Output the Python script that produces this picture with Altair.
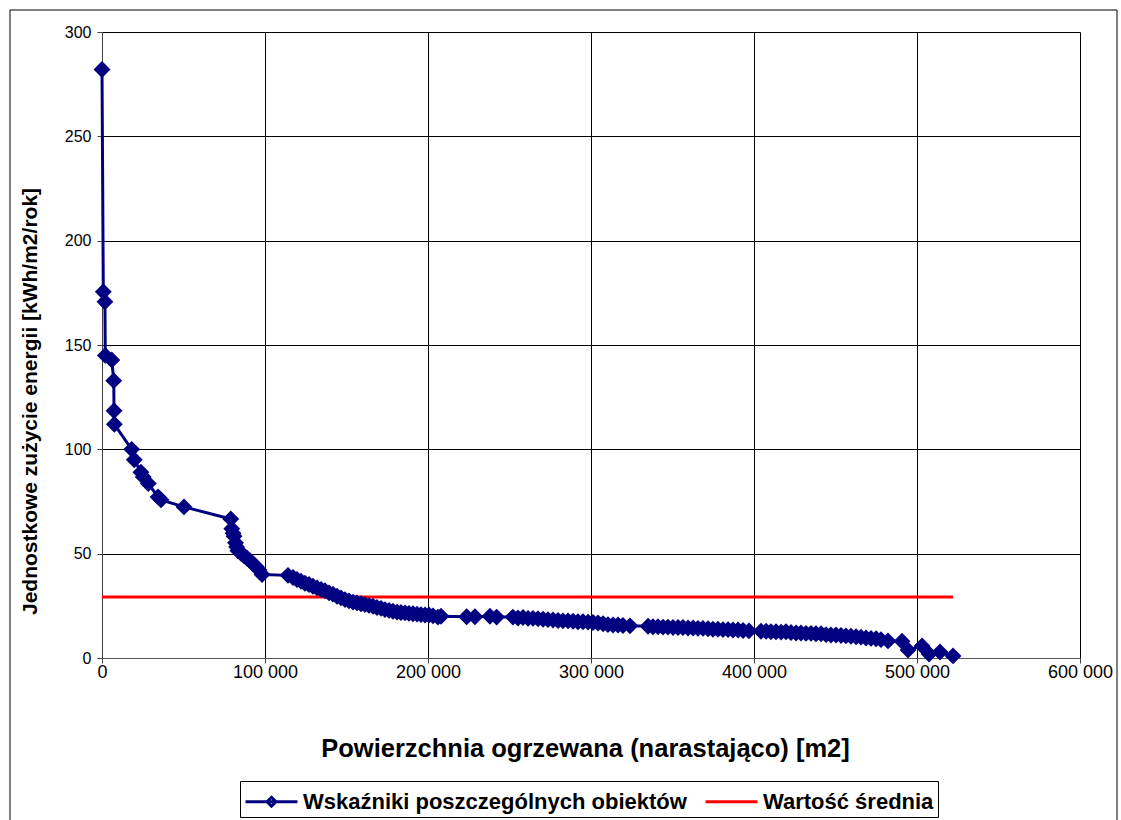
import altair as alt
import pandas as pd

# Cumulative heated floor area [m2] (objects sorted by unit energy use)
area_m2 = [
    0, 800, 1800, 2000, 6000, 7200, 7400, 7600, 18200, 19800,
    23900, 25300, 28400, 34400, 36200, 50300, 79000, 79600, 80400, 81000,
    81900, 82600, 83400, 85300, 87100, 89000, 90800, 92600, 94500, 96300,
    98200, 114100, 117200, 119600, 122100, 124500, 127000, 129400, 131900, 134400,
    136800, 139300, 141700, 144200, 146600, 149100, 151500, 154000, 156400, 158900,
    161300, 163800, 166300, 168700, 171200, 173600, 176100, 178500, 181000, 183400,
    185900, 188300, 190800, 193300, 195700, 198200, 200600, 203100, 206100, 208000,
    223700, 228800, 238000, 242100, 252100, 255200, 258300, 261400, 264400, 267500,
    270600, 273600, 276700, 279800, 282800, 285900, 289000, 292000, 295100, 298200,
    301200, 304300, 307400, 310400, 313500, 316600, 319600, 323900, 335000, 338000,
    341100, 344200, 347200, 350300, 353400, 356400, 359500, 362600, 365600, 368700,
    371800, 374800, 377900, 381000, 384100, 387100, 390200, 393300, 396900, 404300,
    407400, 410400, 413500, 416600, 419600, 422700, 425800, 428800, 431900, 435000,
    438000, 441100, 444200, 447200, 450300, 453400, 456400, 459500, 462600, 465600,
    468700, 471800, 474900, 477900, 482200, 490800, 494500, 503100, 507400, 514100,
    522100,
]

# Unit energy consumption of each object [kWh/m2/rok]
unit_energy = [
    282.0, 175.5, 170.7, 145.0, 142.8, 132.9, 118.5, 112.0, 100.0, 95.0,
    89.0, 86.8, 83.6, 77.2, 75.8, 72.4, 66.6, 62.0, 59.8, 58.4,
    55.2, 53.2, 51.4, 50.2, 49.0, 47.8, 46.6, 45.2, 43.8, 42.2,
    40.0, 39.6, 38.6, 37.6, 36.8, 35.8, 35.2, 34.4, 33.6, 32.8,
    32.2, 31.2, 30.6, 29.6, 28.8, 28.0, 27.4, 26.8, 26.4, 26.0,
    25.6, 25.2, 24.8, 24.2, 23.8, 23.2, 22.8, 22.4, 22.0, 21.8,
    21.6, 21.4, 21.2, 21.0, 20.8, 20.6, 20.6, 20.2, 19.6, 20.0,
    19.8, 19.8, 20.0, 19.6, 19.6, 19.2, 19.4, 19.0, 19.0, 18.8,
    18.6, 18.4, 18.2, 18.0, 17.8, 17.8, 17.6, 17.4, 17.4, 17.2,
    17.0, 16.8, 16.4, 16.0, 15.8, 15.8, 15.6, 15.4, 15.2, 15.0,
    15.0, 14.8, 14.8, 14.6, 14.6, 14.6, 14.4, 14.4, 14.2, 14.2,
    14.0, 13.8, 13.8, 13.6, 13.6, 13.4, 13.4, 13.2, 13.0, 12.8,
    12.8, 12.6, 12.6, 12.4, 12.6, 12.2, 12.0, 12.0, 11.8, 11.8,
    11.6, 11.6, 11.2, 11.0, 11.0, 10.8, 10.6, 10.4, 10.2, 10.0,
    9.6, 9.4, 9.2, 8.8, 8.2, 8.0, 3.8, 5.8, 1.9, 2.9,
    1.0,
]

# Mean value line
mean_area = [0, 522100]
mean_value = [29.2, 29.2]

series_names = ["Wskaźniki poszczególnych obiektów", "Wartość średnia"]
series_colors = ["#000080", "#FF0000"]
# legend glyphs: line with a diamond, plain line (wider than the symbol box)
series_glyphs = [
    "M-1.73,0L1.73,0M0,-0.3L0.3,0L0,0.3L-0.3,0Z",
    "M-1.73,0L1.73,0",
]

x_ticks = [0, 100000, 200000, 300000, 400000, 500000, 600000]
y_ticks = [0, 50, 100, 150, 200, 250, 300]

x_title = "Powierzchnia ogrzewana (narastająco) [m2]"
y_title = "Jednostkowe zużycie energii [kWh/m2/rok]"

FONT = "Liberation Sans"
NAVY = series_colors[0]
RED = series_colors[1]

objects = pd.DataFrame({"area": area_m2, "value": unit_energy,
                        "idx": list(range(len(area_m2)))})
mean_df = pd.DataFrame({"area": mean_area, "value": mean_value})
legend_df = pd.DataFrame({"series": series_names})

x_enc = alt.X(
    "area:Q",
    scale=alt.Scale(domain=[0, 600000], nice=False, zero=False),
    axis=alt.Axis(
        values=x_ticks,
        labelExpr="replace(format(datum.value, ','), ',', ' ')",
        title=x_title,
        titleX=483,
        titleY=90,
        titleBaseline="middle",
        titleFontSize=25.5,
        labelFontSize=18,
        labelPadding=0,
        tickSize=5,
        domainColor="#555555",
        labelFlush=False,
    ),
)
y_enc = alt.Y(
    "value:Q",
    scale=alt.Scale(domain=[0, 300], nice=False),
    axis=alt.Axis(
        values=y_ticks,
        title=y_title,
        titleX=-72,
        titleY=369,
        titleAngle=-90,
        titleAlign="center",
        titleBaseline="middle",
        titleFontSize=21,
        labelFontSize=16,
        labelPadding=6,
        tickSize=5,
        domainColor="#404040",
    ),
)

mean_line = alt.Chart(mean_df).mark_line(color=RED, strokeWidth=3).encode(
    x=x_enc, y=y_enc
)

obj_line = alt.Chart(objects).mark_line(color=NAVY, strokeWidth=3).encode(
    x="area:Q", y="value:Q", order="idx:Q"
)

obj_points = alt.Chart(objects).mark_point(
    shape="diamond", filled=True, color=NAVY, size=285, opacity=1
).encode(x="area:Q", y="value:Q")

legend_props = dict(
    title=None,
    orient="none",
    legendX=138,
    legendY=749,
    direction="horizontal",
    symbolSize=900,
    symbolOffset=11,
    symbolStrokeWidth=3,
    labelFont=FONT,
    labelFontSize=22,
    labelFontWeight="bold",
    labelColor="black",
    labelOffset=15,
    labelLimit=0,
    columnPadding=12,
    padding=4,
    strokeColor="black",
    fillColor="white",
)

legend_src = alt.Chart(legend_df).mark_point(
    filled=True, opacity=0, strokeWidth=3
).encode(
    color=alt.Color("series:N",
                    scale=alt.Scale(domain=series_names, range=series_colors),
                    legend=alt.Legend(**legend_props)),
    stroke=alt.Stroke("series:N",
                      scale=alt.Scale(domain=series_names, range=series_colors),
                      legend=alt.Legend(**legend_props)),
    shape=alt.Shape("series:N",
                    scale=alt.Scale(domain=series_names, range=series_glyphs),
                    legend=alt.Legend(**legend_props)),
)

frame = alt.Chart(pd.DataFrame({"k": [0]})).mark_rect(
    filled=False, stroke="black", strokeWidth=1
).encode(
    x=alt.value(-92), x2=alt.value(1015), y=alt.value(-22), y2=alt.value(800)
)

chart = (
    alt.layer(frame, mean_line, obj_line, obj_points, legend_src)
    .properties(
        width=978,
        height=626,
        autosize=alt.AutoSizeParams(type="none"),
        padding={"left": 102, "top": 32, "right": 41, "bottom": 162},
        background="white",
    )
    .configure_view(stroke=None)
    .configure_axis(
        grid=True,
        gridColor="black",
        gridWidth=1,
        gridOpacity=1,
        tickColor="#404040",
        labelFont=FONT,
        labelColor="black",
        titleFont=FONT,
        titleFontWeight="bold",
        titleColor="black",
    )
)

chart.save("out.html", embed_options={"renderer": "svg", "actions": False})
